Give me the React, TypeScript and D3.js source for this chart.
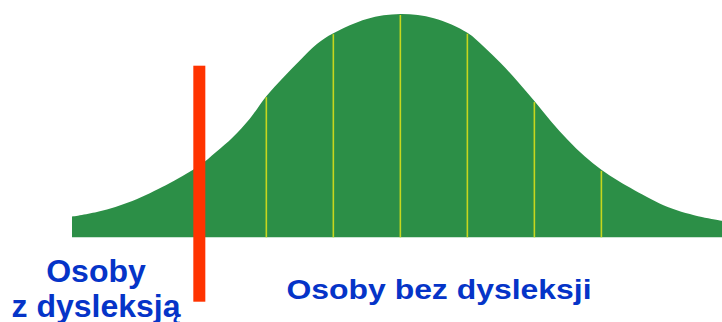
import React from "react";
import * as d3 from "d3";

// Curve: position in SD units, height as % of the peak
const positions = [
  -4.9, -4.5, -4, -3.5, -3.25, -3, -2.75, -2.5, -2.25, -2, -1.75, -1.5, -1.25, -1, -0.5, 0,
  0.5, 1, 1.25, 1.5, 1.75, 2, 2.25, 2.5, 2.75, 3, 3.25, 3.5, 4, 4.5, 4.8,
];
const heights = [
  9.2, 11.5, 16.3, 23.3, 27.4, 32, 38.2, 44.8, 53, 63.2, 71.5, 79.2, 86.5, 91.4, 97.8, 100,
  98.1, 91.6, 85.2, 77.9, 69.8, 61, 51.9, 43.6, 36.3, 30.2, 25.3, 21, 13.5, 9.1, 7.4,
];
const gridLines = [-2, -1, 0, 1, 2, 3];
const cutoff = -3;
const leftLabel = ["Osoby", "z dysleksją"];
const rightLabel = "Osoby bez dysleksji";

const W = 722;
const H = 322;

export default function App() {
  const x = d3.scaleLinear().domain([-4.9, 4.8]).range([72, 722]);
  const y = d3.scaleLinear().domain([0, 100]).range([237.3, 14]);
  const pts = positions.map((p, i) => ({ p, h: heights[i] }));
  const area = d3
    .area<{ p: number; h: number }>()
    .x((d) => x(d.p))
    .y0(y(0))
    .y1((d) => y(d.h))
    .curve(d3.curveCatmullRom.alpha(0.5));

  const heightAt = (p: number) => {
    const i = positions.indexOf(p);
    return i >= 0 ? heights[i] : 0;
  };

  const font = "'Liberation Sans', Arial, Helvetica, sans-serif";
  const blue = "#0534c8";

  return (
    <svg
      width={W}
      height={H}
      viewBox={`0 0 ${W} ${H}`}
      style={{ position: "fixed", left: 0, top: 0, background: "#fff" }}
    >
      <path d={area(pts) || ""} fill="#2c8f47" />
      {gridLines.map((g) => (
        <line
          key={g}
          x1={x(g)}
          x2={x(g)}
          y1={y(0)}
          y2={y(heightAt(g)) + 1}
          stroke="#c6d61e"
          strokeWidth={1.6}
        />
      ))}
      <rect x={x(cutoff) - 6} y={65.7} width={12} height={236} fill="#ff3300" />
      <text
        fontFamily={font}
        fontWeight="bold"
        fontSize={32}
        fill={blue}
        textAnchor="middle"
      >
        <tspan x={96} y={281.5}>{leftLabel[0]}</tspan>
        <tspan x={96} y={316.5}>{leftLabel[1]}</tspan>
      </text>
      <text
        fontFamily={font}
        fontWeight="bold"
        fontSize={28.5}
        fill={blue}
        textAnchor="middle"
        transform="translate(439,299.3) scale(1.12,1)"
      >
        {rightLabel}
      </text>
    </svg>
  );
}
